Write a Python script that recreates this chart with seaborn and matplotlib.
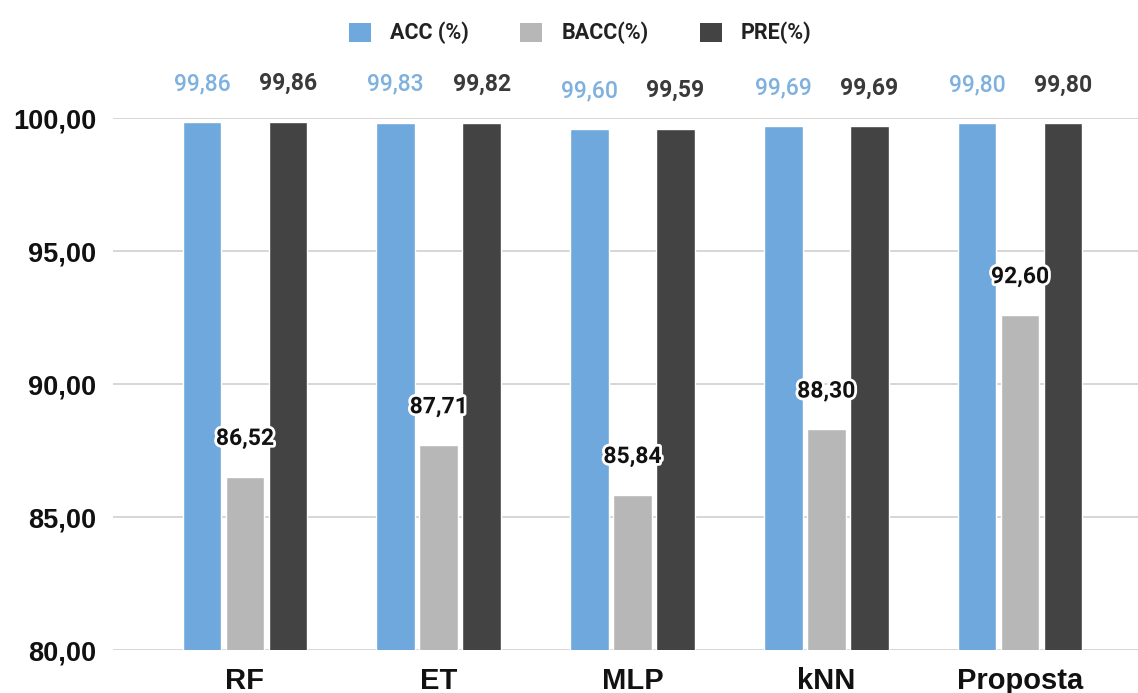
import matplotlib
matplotlib.use("Agg")
import matplotlib.pyplot as plt
import matplotlib.patheffects as pe
from matplotlib.patches import Patch
import pandas as pd
import seaborn as sns

# Model comparison: accuracy, balanced accuracy and precision (%)
models = ["RF", "ET", "MLP", "kNN", "Proposta"]
acc = [99.86, 99.83, 99.60, 99.69, 99.80]
bacc = [86.52, 87.71, 85.84, 88.30, 92.60]
pre = [99.86, 99.82, 99.59, 99.69, 99.80]
metrics = ["ACC (%)", "BACC(%)", "PRE(%)"]
yticks = [80, 85, 90, 95, 100]

colors = ["#6fa8dc", "#b7b7b7", "#434343"]
label_colors = ["#7fb1de", "#111111", "#3a3a3a"]

df = pd.DataFrame({
    "model": models * 3,
    "metric": [metrics[0]] * 5 + [metrics[1]] * 5 + [metrics[2]] * 5,
    "value": acc + bacc + pre,
})

sns.set_theme(style="white")
plt.rcParams["font.family"] = ["Roboto", "DejaVu Sans"]

fig = plt.figure(figsize=(11.38, 6.93), dpi=100)
ax = fig.add_axes([0.0993, 0.062, 0.9007, 0.7677])

sns.barplot(data=df, x="model", y="value", hue="metric", order=models,
            hue_order=metrics, palette=colors, width=0.666, gap=0.1,
            saturation=1, legend=False, ax=ax, zorder=3)

ax.set_ylim(80, 100)
ax.set_xlim(-0.681, 4.609)
ax.set_yticks(yticks)
ax.set_yticklabels([f"{v:.2f}".replace(".", ",") for v in yticks])
ax.yaxis.grid(True, color="#d0d0d0", linewidth=1.2, zorder=0)
ax.set_axisbelow(True)
for s in ax.spines.values():
    s.set_visible(False)
ax.set_xlabel("")
ax.set_ylabel("")
ax.tick_params(axis="y", length=0, pad=12)
ax.tick_params(axis="x", length=0, pad=12)
for t in ax.get_yticklabels():
    t.set_fontfamily(["Liberation Sans", "DejaVu Sans"])
    t.set_fontweight("bold")
    t.set_fontsize(19.5)
    t.set_color("#111111")
for t in ax.get_xticklabels():
    t.set_fontfamily(["Liberation Sans", "DejaVu Sans"])
    t.set_fontweight("bold")
    t.set_fontsize(21)
    t.set_color("#111111")

# Value labels above each bar
for container, col, metric in zip(ax.containers, label_colors, metrics):
    for bar in container:
        h = bar.get_height()
        x = bar.get_x() + bar.get_width() / 2
        txt = f"{h:.2f}".replace(".", ",")
        kw = dict(ha="center", va="center", fontsize=16.5, color=col,
                  annotation_clip=False, textcoords="offset points",
                  xytext=(0, 27.5), zorder=5)
        if metric == "BACC(%)":
            kw["fontweight"] = "bold"
            kw["path_effects"] = [pe.withStroke(linewidth=4, foreground="white")]
        elif metric == "PRE(%)":
            kw["fontweight"] = "bold"
        else:
            kw["fontweight"] = "medium"
        ax.annotate(txt, (x, h), **kw)

handles = [Patch(facecolor=c, edgecolor="none", label=m) for c, m in zip(colors, metrics)]
leg = fig.legend(handles=handles, loc="center", bbox_to_anchor=(0.51, 0.952),
                 ncol=3, frameon=False, handlelength=1.0, handleheight=1.0,
                 handletextpad=0.9, columnspacing=2.4,
                 prop={"family": "Roboto", "weight": "bold", "size": 15.5})
for t in leg.get_texts():
    t.set_color("#222222")

fig.savefig("out.png", dpi=100, facecolor="white")
